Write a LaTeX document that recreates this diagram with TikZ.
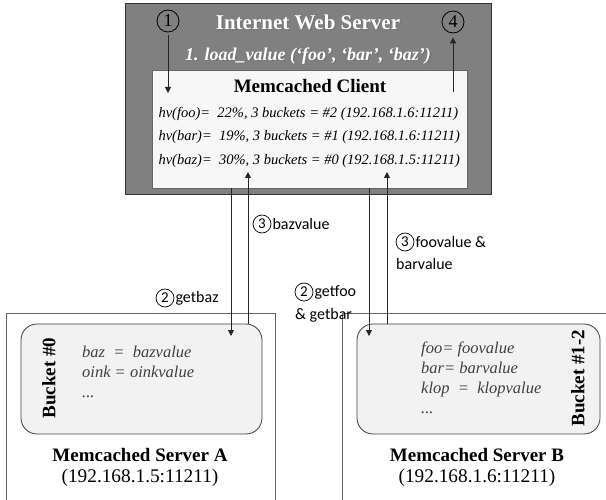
\documentclass[tikz,border=0pt]{standalone}
\usepackage{fontspec}
\setmainfont{Liberation Serif}
\newfontfamily\calfont{Carlito}
\usetikzlibrary{arrows.meta,shadows,calc}
\definecolor{webgray}{HTML}{808080}
\definecolor{clientfill}{HTML}{F7F7F7}
\definecolor{bucketfill}{HTML}{F2F2F2}
\definecolor{valtext}{HTML}{404040}
\tikzset{
  arr/.style={-{Triangle[width=6pt,length=6pt]}, line width=0.8pt, black!85},
  webbox/.style={draw=black!80, fill=webgray, line width=0.8pt, minimum width=366pt, minimum height=191pt, inner sep=0pt},
  clientbox/.style={draw=black!60, fill=clientfill, line width=0.8pt, minimum width=315pt, minimum height=118pt, inner sep=0pt, drop shadow={shadow xshift=2pt, shadow yshift=-2pt, opacity=0.5}},
  serverbox/.style={draw=black!60, fill=white, line width=0.8pt, minimum width=269pt, minimum height=210pt, inner sep=0pt},
  bucketbox/.style={draw=black!75, fill=bucketfill, line width=0.8pt, rounded corners=16pt, minimum width=241pt, minimum height=110pt, inner sep=0pt},
  title/.style={text=white, font=\fontsize{21}{25}\selectfont\bfseries},
  subtitle/.style={text=white, font=\fontsize{18}{21}\selectfont\bfseries\itshape},
  tshadow/.style={text=black!55, opacity=0.7},
  clienttitle/.style={font=\fontsize{19}{23}\selectfont\bfseries},
  hvline/.style={anchor=west, font=\fontsize{14.5}{17}\selectfont\itshape},
  numcirc/.style={draw, circle, line width=0.8pt, minimum size=22pt, inner sep=0pt, font=\fontsize{18}{18}\selectfont},
  lblcirc/.style={draw, circle, line width=0.7pt, minimum size=18pt, inner sep=0pt, font=\fontsize{15}{15}\selectfont\calfont},
  lbl/.style={anchor=west, font=\fontsize{16}{19}\selectfont\calfont, inner sep=0pt},
  bucketlbl/.style={rotate=90, font=\fontsize{19}{22}\selectfont\bfseries},
  val/.style={anchor=west, text=valtext, font=\fontsize{16.5}{19}\selectfont\itshape, inner sep=0pt, text height=10pt, text depth=3pt},
  srvname/.style={font=\fontsize{19}{23}\selectfont\bfseries},
  srvip/.style={font=\fontsize{19.3}{23}\selectfont},
}
\begin{document}
\begin{tikzpicture}[x=1pt,y=-1pt]
\useasboundingbox (0,0) rectangle (606,500);

% boxes
\node[webbox] (web) at (308,98.5) {};
\node[clientbox] (client) at (309.5,129) {};
\node[serverbox] (srvA) at (140.5,418) {};
\node[serverbox, minimum width=290pt] (srvB) at (487,418) {};
\node[bucketbox] (bucketA) at (141.5,379) {};
\node[bucketbox, minimum width=243pt] (bucketB) at (478.5,379) {};

% web server texts
\node[title, tshadow] (webtitleS) at (309.5,23.5) {Internet Web Server};
\node[title] (webtitle) at (308,22) {Internet Web Server};
\node[subtitle, tshadow] (loadS) at (309.5,57.5) {1. load\_value (‘foo’, ‘bar’, ‘baz’)};
\node[subtitle] (load) at (308,56) {1. load\_value (‘foo’, ‘bar’, ‘baz’)};
\node[numcirc] (c1) at (168,21) {1};
\node[numcirc] (c4) at (453,22) {4};
\coordinate (a1end) at (168,93);
\coordinate (a4start) at (453,92);
\draw[arr] ($(c1.south)+(0,3)$) -- (a1end);
\draw[arr] (a4start) -- ($(c4.south)+(0,4)$);

% client texts
\node[clienttitle] (ctitle) at (310,86) {Memcached Client};
\node[hvline] (hv1) at (155,114) {hv(foo)=\ \ 22\%, 3 buckets = \#2 (192.168.1.6:11211)};
\node[hvline] (hv2) at (155,137) {hv(bar)=\ \ 19\%, 3 buckets = \#1 (192.168.1.6:11211)};
\node[hvline] (hv3) at (155,161) {hv(baz)=\ \ 30\%, 3 buckets = \#0 (192.168.1.5:11211)};

% connectors
\coordinate (xA1) at (231,0);
\coordinate (xA2) at (248,0);
\coordinate (xB1) at (369,0);
\coordinate (xB2) at (387,0);
\coordinate (dA) at (231,336);
\coordinate (uA) at (248,172);
\coordinate (dB) at (369,336);
\coordinate (uB) at (387,172);
\draw[arr] (client.south -| xA1) -- (dA);
\draw[arr] (bucketA.north -| xA2) -- (uA);
\draw[arr] (client.south -| xB1) -- (dB);
\draw[arr] (bucketB.north -| xB2) -- (uB);

% connector labels
\node[lblcirc] (l3a) at (262,224) {3};
\node[lbl] (l3at) at ($(l3a.east)+(1,0)$) {bazvalue};
\node[lblcirc] (l3b) at (405,242) {3};
\node[lbl] (l3bt) at ($(l3b.east)+(1,0)$) {foovalue \&};
\node[lbl] (l3bt2) at (396,264) {barvalue};
\node[lblcirc] (l2a) at (165,298) {2};
\node[lbl] (l2at) at ($(l2a.east)+(1,0)$) {getbaz};
\node[lblcirc] (l2b) at (304,292) {2};
\node[lbl] (l2bt) at ($(l2b.east)+(1,0)$) {getfoo};
\node[lbl] (l2bt2) at (295,315) {\& getbar};

% bucket A
\node[bucketlbl] (bA) at (49,378) {Bucket \#0};
\node[val] (vA1) at (82,354) {baz\ \ =\ \ bazvalue};
\node[val] (vA2) at (82,374) {oink = oinkvalue};
\node[val] (vA3) at (82,394) {...};
\node[srvname] (nA) at (140,455) {Memcached Server A};
\node[srvip] (ipA) at (140,478) {(192.168.1.5:11211)};

% bucket B
\node[bucketlbl] (bB) at (578,378) {Bucket \#1-2};
\node[val] (vB1) at (421,350) {foo= foovalue};
\node[val] (vB2) at (421,370) {bar= barvalue};
\node[val] (vB3) at (421,390) {klop\ \ =\ \ klopvalue};
\node[val] (vB4) at (421,410) {...};
\node[srvname] (nB) at (477,455) {Memcached Server B};
\node[srvip] (ipB) at (477,478) {(192.168.1.6:11211)};
\end{tikzpicture}
\end{document}
